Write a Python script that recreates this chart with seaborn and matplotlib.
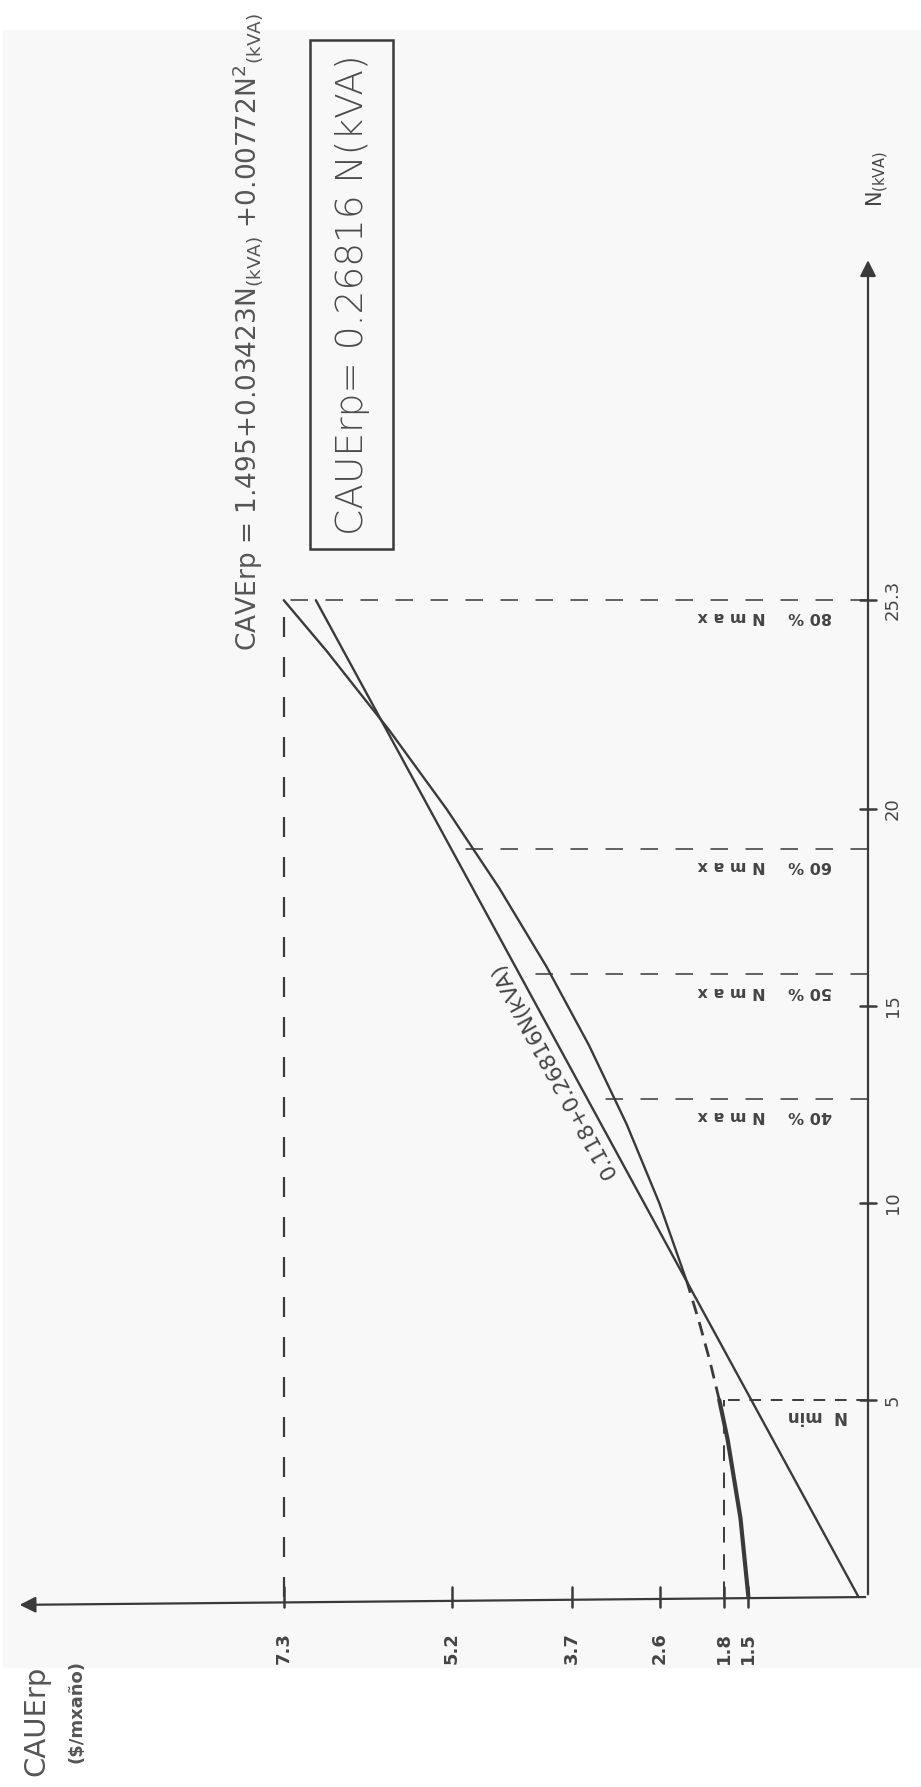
import numpy as np
import pandas as pd
import matplotlib
matplotlib.use("Agg")
import matplotlib.pyplot as plt
from matplotlib.patches import Rectangle
import seaborn as sns

# ── Data ─────────────────────────────────────────────────────────────────────
n_curve = [0, 2, 4, 5, 6, 7, 8, 10, 12, 14, 16, 18, 20, 22, 24, 25.3]
caue_quad = [1.495, 1.594, 1.755, 1.859, 1.978, 2.113, 2.263, 2.609, 3.017,
             3.487, 4.019, 4.612, 5.268, 5.985, 6.763, 7.303]
n_line = [0, 25.3]
caue_line = [0.118, 6.902]

caue_ticks = [7.3, 5.2, 3.7, 2.6, 1.8, 1.5]
caue_ticklabels = ["7.3", "5.2", "3.7", "2.6", "1.8", "1.5"]
n_ticks = [5, 10, 15, 20, 25.3]
n_ticklabels = ["5", "10", "15", "20", "25.3"]

nmax_levels = [12.65, 15.8, 18.98, 25.3]
nmax_reach = [3.51, 4.35, 5.21, 7.3]
nmax_labels = ["40 %    N m a x", "50 %    N m a x", "60 %    N m a x",
               "80 %    N m a x"]
n_min = 5
caue_min = 1.8
caue_top = 7.3
n_top = 25.3

# ── Style ────────────────────────────────────────────────────────────────────
sns.set_theme(style="white")
plt.rcParams["font.family"] = ["DejaVu Sans"]
plt.rcParams["mathtext.fontset"] = "dejavusans"

INK = "#3a3a3a"
TXT = "#555555"
DASH = (0, (9, 9))

fig = plt.figure(figsize=(9.21, 17.87), dpi=100)
fig.patch.set_facecolor("white")
ax = fig.add_axes([0, 0, 1, 1])
ax.patch.set_alpha(0)
# scanned paper area (light grey)
ax.add_patch(Rectangle((3 / 921, 120 / 1787), 1, 1637 / 1787,
                       transform=ax.transAxes, color="#f8f8f8", zorder=-10))
# page is turned: CAUE grows to the left, N grows upwards
ax.set_xlim(10.85, -0.6625)
ax.set_ylim(-4.822, 40.533)
ax.axis("off")

# ── Curves ───────────────────────────────────────────────────────────────────
df_q = pd.DataFrame({"N": n_curve, "CAUE": caue_quad})
low = df_q[df_q["N"] <= 5]
mid = df_q[(df_q["N"] >= 5) & (df_q["N"] <= 8)]
high = df_q[df_q["N"] >= 8]
sns.lineplot(data=low, x="CAUE", y="N", sort=False, color=INK, lw=3.0, ax=ax)
sns.lineplot(data=mid, x="CAUE", y="N", sort=False, color=INK, lw=2.0,
             linestyle=(0, (5, 3)), ax=ax)
sns.lineplot(data=high, x="CAUE", y="N", sort=False, color=INK, lw=1.7, ax=ax)
sns.lineplot(x=caue_line, y=n_line, sort=False, color=INK, lw=1.7, ax=ax)

# ── Dashed guides ────────────────────────────────────────────────────────────
for lvl, reach in zip(nmax_levels, nmax_reach):
    ax.plot([0, reach], [lvl, lvl], color=INK, lw=1.4, ls=DASH, alpha=0.8)
ax.plot([caue_top, caue_top], [0, n_top], color=INK, lw=1.6, ls=DASH)
ax.plot([0, caue_min], [n_min, n_min], color=INK, lw=1.4, ls=(0, (6, 5)))
ax.plot([caue_min, caue_min], [0, n_min], color=INK, lw=1.4, ls=(0, (8, 6)))

# ── Axes with arrows ─────────────────────────────────────────────────────────
ax.annotate("", xy=(10.64, -0.2), xytext=(0, 0),
            arrowprops=dict(arrowstyle="-|>", color=INK, lw=1.6,
                            mutation_scale=24))
ax.annotate("", xy=(0, 34.0), xytext=(0, 0),
            arrowprops=dict(arrowstyle="-|>", color=INK, lw=1.6,
                            mutation_scale=24))

for c, lab in zip(caue_ticks, caue_ticklabels):
    ax.plot([c, c], [-0.25, 0.25], color=INK, lw=1.8)
    ax.text(c, -1.3, lab, rotation=90, ha="center", va="center",
            fontsize=13, fontweight="bold", color="#444444")
for n, lab in zip(n_ticks, n_ticklabels):
    ax.plot([-0.1, 0.1], [n, n], color=INK, lw=1.8)
    ax.text(-0.31, n, lab, rotation=90, ha="center", va="center",
            fontsize=13, color="#444444")

# ── Labels ───────────────────────────────────────────────────────────────────
for lvl, lab in zip(nmax_levels, nmax_labels):
    ax.text(0.45, lvl - 0.42, lab, rotation=180, ha="right", va="center",
            fontsize=11.5, fontweight="bold", color="#444444")
ax.text(0.25, n_min - 0.4, "N  min", rotation=180, ha="right", va="center",
        fontsize=12, fontweight="bold", color="#444444")

p0 = ax.transData.transform((caue_line[0], n_line[0]))
p1 = ax.transData.transform((caue_line[1], n_line[1]))
ang = np.degrees(np.arctan2(p1[1] - p0[1], p1[0] - p0[0]))
n_lab = 13.5
ax.text(np.interp(n_lab, n_line, caue_line) + 0.08, n_lab,
        "0.118+0.26816N(kVA)", rotation=ang, rotation_mode="anchor",
        ha="center", va="bottom", fontsize=15.5, color="#444444")

eq = (r"CAVErp = 1.495+0.03423N$\mathregular{_{(kVA)}}$"
      r" +0.00772N$\mathregular{^{2}}$$\mathregular{_{(kVA)}}$")
ax.text(7.75, 32.1, eq, rotation=90, ha="center", va="center",
        fontsize=19, color=TXT)

ax.add_patch(Rectangle((5.94, 26.6), 1.035, 12.92, fill=False,
                       edgecolor=INK, lw=1.8))
ax.text(6.45, 33.05, "CAUErp= 0.26816 N(kVA)", rotation=90, ha="center",
        va="center", fontsize=27, fontweight="light", color="#4a4a4a")

ax.text(-0.125, 36.0, r"N$\mathregular{_{(kVA)}}$", rotation=90, ha="center",
        va="center", fontsize=15, color="#444444")

ax.text(10.39, -3.15, "CAUErp", rotation=90, ha="center", va="center",
        fontsize=21, color=TXT)
ax.text(9.89, -2.9, "($/mxaño)", rotation=90, ha="center", va="center",
        fontsize=13, fontweight="bold", color="#555555")

plt.savefig("out.png", dpi=100)
